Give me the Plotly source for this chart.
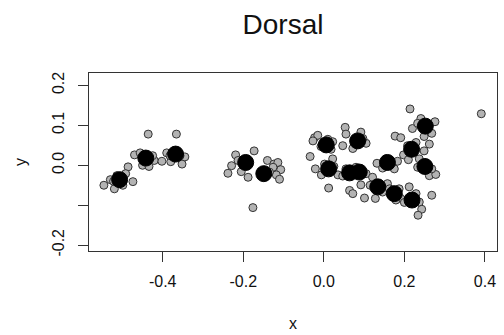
import plotly.graph_objects as go

# Individual specimen scores (grey) on the two ordination axes
spec_x = [
    -0.546, -0.530, -0.520, -0.486, -0.474, -0.492, -0.499, -0.514, -0.522,
    -0.470, -0.436, -0.450, -0.434, -0.421, -0.456, -0.425, -0.448,
    -0.366, -0.402, -0.390, -0.352, -0.345, -0.380, -0.357, -0.382,
    -0.219, -0.173, -0.229, -0.238, -0.205, -0.188, -0.213, -0.176,
    -0.140, -0.124, -0.114, -0.107, -0.118, -0.110, -0.126, -0.135,
    -0.023, -0.015, -0.027, 0.022, 0.018, -0.034, -0.007, 0.010,
    -0.021, 0.022, -0.006, 0.012, 0.035, 0.002, 0.025,
    0.064, 0.072, 0.092, 0.101, 0.055, 0.105, 0.080, 0.047,
    0.053, 0.055, 0.047, 0.072, 0.105, 0.092, 0.097,
    0.214, 0.241, 0.276, 0.220, 0.268, 0.249, 0.262, 0.233,
    0.177, 0.191, 0.198, 0.210, 0.249, 0.229, 0.208,
    0.132, 0.146, 0.183, 0.175, 0.154,
    0.237, 0.262, 0.278, 0.233, 0.268, 0.268,
    0.128, 0.121, 0.158, 0.115, 0.146,
    0.212, 0.191, 0.163, 0.187, 0.179,
    0.243, 0.234, 0.229, 0.200, 0.237,
    0.391,
]
spec_y = [
    -0.050, -0.036, -0.059, -0.004, -0.041, -0.021, -0.050, -0.026, -0.040,
    0.026, 0.078, 0.000, -0.003, 0.012, 0.031, 0.024, 0.012,
    0.078, 0.010, 0.031, 0.003, 0.021, 0.009, 0.024, 0.024,
    0.026, 0.036, -0.001, -0.020, -0.016, -0.030, 0.012, -0.106,
    0.012, 0.003, 0.007, -0.011, -0.024, -0.035, -0.005, -0.017,
    0.069, 0.075, 0.061, 0.059, 0.040, 0.022, 0.047, 0.065,
    -0.009, 0.016, -0.024, -0.057, -0.024, 0.003, -0.003,
    -0.063, -0.071, -0.049, -0.082, -0.009, -0.021, -0.005, -0.027,
    0.095, 0.078, 0.049, 0.042, 0.055, 0.083, 0.067,
    0.141, 0.117, 0.109, 0.092, 0.080, 0.072, 0.053, 0.105,
    0.073, 0.069, 0.026, 0.014, 0.036, 0.057, 0.049,
    0.005, -0.007, 0.010, -0.009, 0.016,
    0.016, -0.026, -0.023, -0.005, -0.009, -0.075,
    -0.083, -0.030, -0.046, -0.050, -0.067,
    -0.054, -0.083, -0.059, -0.059, -0.087,
    -0.110, -0.125, -0.071, -0.093, -0.092,
    0.129,
]

# Group means (black)
mean_x = [-0.507, -0.442, -0.368, -0.194, -0.149, 0.006, 0.012, 0.064, 0.088,
          0.084, 0.134, 0.158, 0.175, 0.218, 0.219, 0.252, 0.251]
mean_y = [-0.036, 0.018, 0.028, 0.007, -0.021, 0.051, -0.009, -0.019, -0.017,
          0.061, -0.054, 0.007, -0.071, 0.040, -0.087, 0.098, -0.003]

x_ticks = [-0.4, -0.2, 0.0, 0.2, 0.4]
x_labels = ["-0.4", "-0.2", "0.0", "0.2", "0.4"]
y_ticks = [-0.2, -0.1, 0.0, 0.1, 0.2]
y_labels = ["-0.2", "", "0.0", "0.1", "0.2"]

FONT = "Liberation Sans, Arial, Helvetica, sans-serif"

fig = go.Figure()
fig.add_trace(go.Scatter(
    x=spec_x, y=spec_y, mode="markers",
    marker=dict(size=8, color="#b3b3b3", line=dict(color="#333333", width=1)),
    showlegend=False, hoverinfo="x+y",
))
fig.add_trace(go.Scatter(
    x=mean_x, y=mean_y, mode="markers",
    marker=dict(size=16, color="#000000", line=dict(color="#000000", width=1)),
    showlegend=False, hoverinfo="x+y",
))

axis_common = dict(
    showgrid=False, zeroline=False, showline=True, mirror=True,
    linecolor="#333333", linewidth=1,
    ticks="outside", ticklen=10, tickwidth=1, tickcolor="#333333",
    tickfont=dict(family=FONT, size=16, color="#111111"),
)

fig.update_layout(
    width=504, height=335,
    margin=dict(l=89, r=6, t=73, b=82),
    paper_bgcolor="white", plot_bgcolor="white",
    font=dict(family=FONT, color="#111111"),
    title=dict(text="Dorsal", font=dict(family=FONT, size=28, color="#111111"),
               x=283 / 504, xanchor="center", xref="container",
               y=1 - 24 / 335, yanchor="middle", yref="container"),
    xaxis=dict(range=[-0.583, 0.430], tickvals=x_ticks, ticktext=x_labels,
               title=dict(text="x", font=dict(family=FONT, size=16), standoff=28),
               ticklabelstandoff=6, **axis_common),
    yaxis=dict(range=[-0.2146, 0.231], tickvals=y_ticks, ticktext=y_labels,
               tickangle=-90,
               title=dict(text="y", font=dict(family=FONT, size=16), standoff=18),
               ticklabelstandoff=8, **axis_common),
)

fig.write_html("out.html")
